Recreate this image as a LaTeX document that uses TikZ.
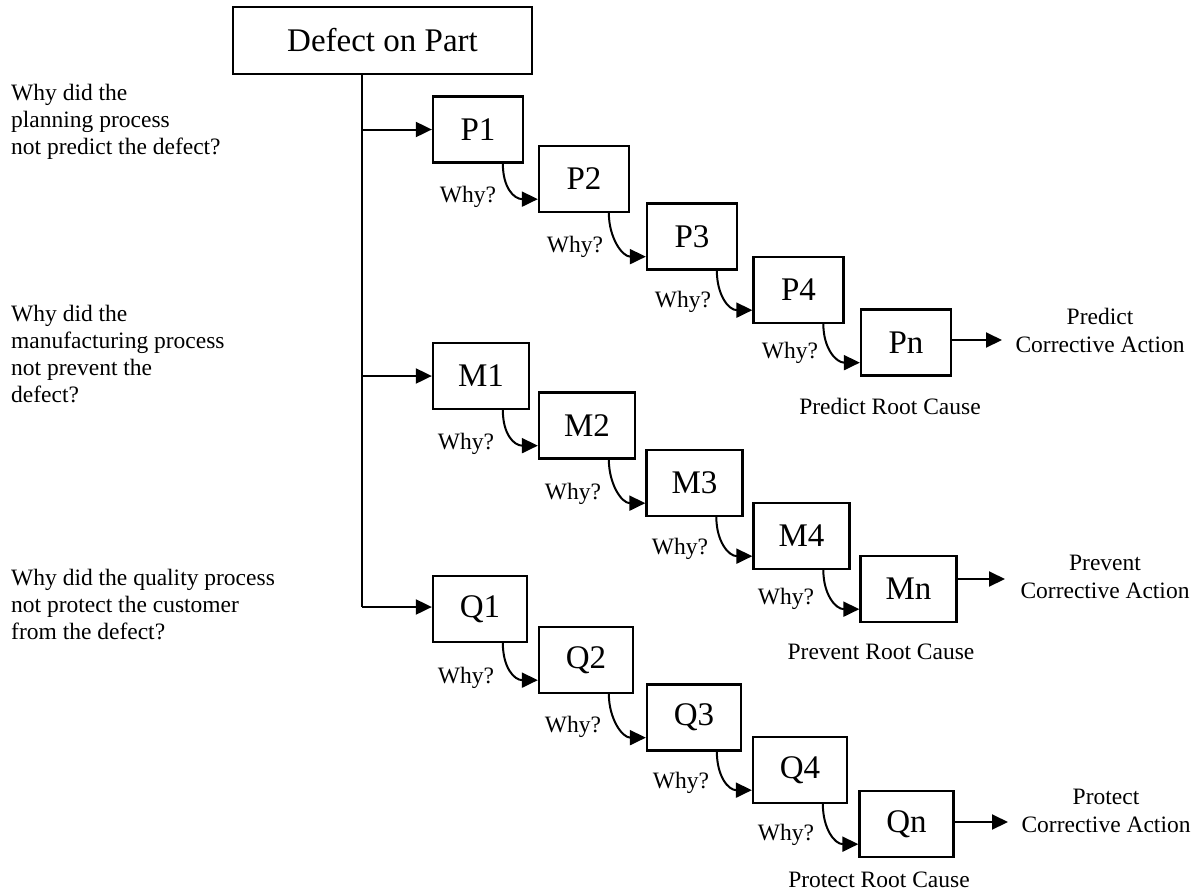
\documentclass[tikz,border=0pt]{standalone}
\usepackage{fontspec}
\setmainfont{Liberation Serif}
\usetikzlibrary{arrows.meta}
\begin{document}
\begin{tikzpicture}[x=1pt,y=-1pt,
  box/.style={draw, line width=2.3pt, minimum height=66pt, inner sep=0pt, font=\fontsize{33}{38}\selectfont},
  pbox/.style={box, minimum width=90pt},
  mbox/.style={box, minimum width=96pt},
  qbox/.style={box, minimum width=94pt},
  conn/.style={line width=2pt},
  arr/.style={conn, -{Triangle[length=16pt,width=15pt]}},
  carr/.style={conn, -{Triangle[length=16pt,width=15pt]}},
  why/.style={font=\fontsize{23.5}{27}\selectfont, inner sep=0pt},
  lbl/.style={font=\fontsize{23.5}{27}\selectfont, inner sep=0pt, align=left},
  rlbl/.style={font=\fontsize{23.5}{28}\selectfont, inner sep=0pt, align=center},
]
\useasboundingbox (0,0) rectangle (1200,895);

% top box
\node[box, minimum width=299pt, minimum height=67pt] (D) at (382.5,40.5) {Defect on Part};

% P chain
\node[pbox] (P1) at (478,129.5) {P1};
\node[pbox] (P2) at (584,179) {P2};
\node[pbox] (P3) at (692,236.5) {P3};
\node[pbox] (P4) at (798.5,290) {P4};
\node[pbox] (Pn) at (906,342.5) {Pn};

% M chain
\node[mbox] (M1) at (481,376) {M1};
\node[mbox] (M2) at (587,425.5) {M2};
\node[mbox] (M3) at (694.5,483) {M3};
\node[mbox] (M4) at (801.5,536) {M4};
\node[mbox] (Mn) at (908.5,589) {Mn};

% Q chain
\node[qbox] (Q1) at (480,609) {Q1};
\node[qbox] (Q2) at (586,660) {Q2};
\node[qbox] (Q3) at (694,717.5) {Q3};
\node[qbox] (Q4) at (800,770) {Q4};
\node[qbox] (Qn) at (906.5,824) {Qn};

% trunk
\coordinate (tb) at (362,607);
\draw[conn] (D.south -| tb) -- (tb);
\draw[arr] (tb |- P1.west) -- (P1.west);
\draw[arr] (tb |- M1.west) -- (M1.west);
\draw[arr] (tb) -- (tb -| Q1.west);

% curved why arrows
\foreach \a/\b in {P1/P2,P2/P3,P3/P4,P4/Pn,M1/M2,M2/M3,M3/M4,M4/Mn,Q1/Q2,Q2/Q3,Q3/Q4,Q4/Qn}{
  \draw[carr] ([xshift=71pt]\a.south west) .. controls +(0,24) and +(-24,0) .. ([yshift=14pt]\b.south west);
}

% why labels
\node[why] (w1) at (468,197) {Why?};
\node[why] (w2) at (575,247) {Why?};
\node[why] (w3) at (683,302) {Why?};
\node[why] (w4) at (790,353) {Why?};
\node[why] (w5) at (466,444) {Why?};
\node[why] (w6) at (573,494) {Why?};
\node[why] (w7) at (680,549) {Why?};
\node[why] (w8) at (786,599) {Why?};
\node[why] (w9) at (466,678) {Why?};
\node[why] (w10) at (573,727) {Why?};
\node[why] (w11) at (681,783) {Why?};
\node[why] (w12) at (786,835) {Why?};

% corrective action arrows
\coordinate (pa) at (1002,340);
\coordinate (ma) at (1005,579);
\coordinate (qa) at (1008,822);
\draw[arr] (Pn.east |- pa) -- (pa);
\draw[arr] (Mn.east |- ma) -- (ma);
\draw[arr] (Qn.east |- qa) -- (qa);

\node[rlbl] (ca1) at (1100,330) {Predict\\Corrective Action};
\node[rlbl] (ca2) at (1105,577) {Prevent\\Corrective Action};
\node[rlbl] (ca3) at (1106,811) {Protect\\Corrective Action};

\node[why] (rc1) at (890,406) {Predict Root Cause};
\node[why] (rc2) at (881,652) {Prevent Root Cause};
\node[why] (rc3) at (879,880) {Protect Root Cause};

% left questions
\node[lbl, anchor=west] (q1) at (11,121.7) {Why did the\\planning process\\not predict the defect?};
\node[lbl, anchor=west] (q2) at (11,353.6) {Why did the\\manufacturing process\\not prevent the\\defect?};
\node[lbl, anchor=west] (q3) at (11,604.7) {Why did the quality process\\not protect the customer\\from the defect?};
\end{tikzpicture}
\end{document}
